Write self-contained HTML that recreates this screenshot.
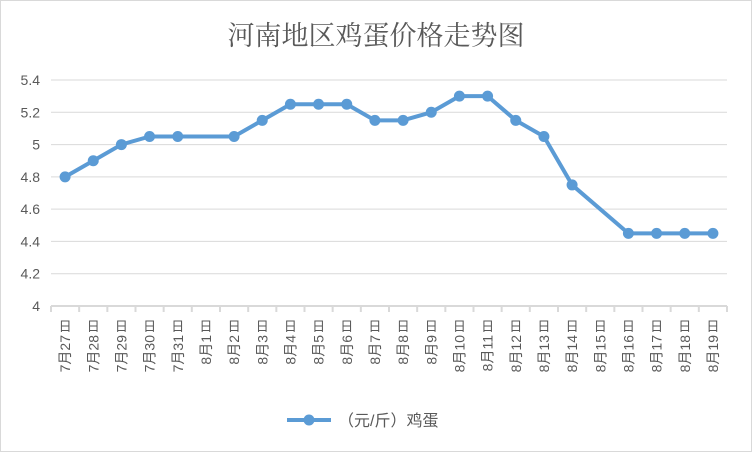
<!DOCTYPE html>
<html><head><meta charset="utf-8"><style>
html,body{margin:0;padding:0;background:#fff}
svg{display:block;font-family:"Liberation Sans","Noto Sans CJK SC",sans-serif}
</style></head><body>
<svg id="chart" width="752" height="452" viewBox="0 0 752 452">
<rect x="0.5" y="0.5" width="751" height="451" fill="#fff" stroke="#d9d9d9"/>
<text x="376" y="45" text-anchor="middle" font-size="27" fill="#595959" font-family="'Liberation Serif','Noto Serif CJK SC',serif">河南地区鸡蛋价格走势图</text>
<g id="grid"></g><g id="yticks"></g><g id="xaxis"></g><g id="series"></g>
<g>
<line x1="287" y1="420" x2="331" y2="420" stroke="#5b9bd5" stroke-width="4"/>
<circle cx="309" cy="420" r="5.5" fill="#5b9bd5"/>
<text x="338" y="426" font-size="16" fill="#595959">（元/斤）鸡蛋</text>
</g>
</svg>
<script>
const categories=["7月27","7月28","7月29","7月30","7月31","8月1","8月2","8月3","8月4","8月5","8月6","8月7","8月8","8月9","8月10","8月11","8月12","8月13","8月14","8月15","8月16","8月17","8月18","8月19"];
const values=[4.8,4.9,5.0,5.05,5.05,null,5.05,5.15,5.25,5.25,5.25,5.15,5.15,5.2,5.3,5.3,5.15,5.05,4.75,null,4.45,4.45,4.45,4.45];
const yTicks=[4,4.2,4.4,4.6,4.8,5,5.2,5.4];
const yTickLabels=["4","4.2","4.4","4.6","4.8","5","5.2","5.4"];
const NS="http://www.w3.org/2000/svg";
const X0=51,X1=727,Y0=306,Y1=80,ymin=4,ymax=5.4;
const bw=(X1-X0)/categories.length;
const xs=i=>X0+bw*(i+0.5);
const ys=v=>Y0-(v-ymin)/(ymax-ymin)*(Y0-Y1);
function mk(t,a,p){const e=document.createElementNS(NS,t);for(const k in a)e.setAttribute(k,a[k]);p.appendChild(e);return e;}
const grid=document.getElementById('grid'),yt=document.getElementById('yticks'),xa=document.getElementById('xaxis'),se=document.getElementById('series');
yTicks.forEach((v,i)=>{
 if(v!==ymin){const l=mk('line',{x1:X0,x2:X1,y1:ys(v),y2:ys(v),stroke:'#d9d9d9','stroke-width':1},grid);
 
 }
 const t=mk('text',{x:40,y:ys(v)+5,'text-anchor':'end','font-size':14,fill:'#595959'},yt);
 t.textContent=yTickLabels[i];
 
 
});
const ax=mk('line',{x1:X0,x2:X1,y1:Y0,y2:Y0,stroke:'#d9d9d9','stroke-width':2},xa);


for(let i=0;i<=categories.length;i++){
 const tk=mk('line',{x1:X0+bw*i,x2:X0+bw*i,y1:Y0,y2:Y0+6,stroke:'#d9d9d9','stroke-width':2},xa);
 
 
}
categories.forEach((c,i)=>{
 const x=xs(i);
 const g=mk('g',{},xa);
 
 
 const d=mk('text',{x:x,y:331,'text-anchor':'middle','font-size':13,fill:'#595959'},g);d.textContent='日';
 const t=mk('text',{x:0,y:0,'text-anchor':'end','font-size':14,fill:'#595959',transform:`translate(${x+5},335) rotate(-90)`},g);
 t.textContent=c;
});
let segs=[];values.forEach((v,i)=>{if(v!==null)segs.push([xs(i),ys(v)]);});
const pl=mk('polyline',{points:segs.map(p=>p.join(',')).join(' '),fill:'none',stroke:'#5b9bd5','stroke-width':4,'stroke-linejoin':'round'},se);


values.forEach((v,i)=>{if(v===null)return;
 const c=mk('circle',{cx:xs(i),cy:ys(v),r:5.5,fill:'#5b9bd5'},se);
 
 
});
</script>
</body></html>
